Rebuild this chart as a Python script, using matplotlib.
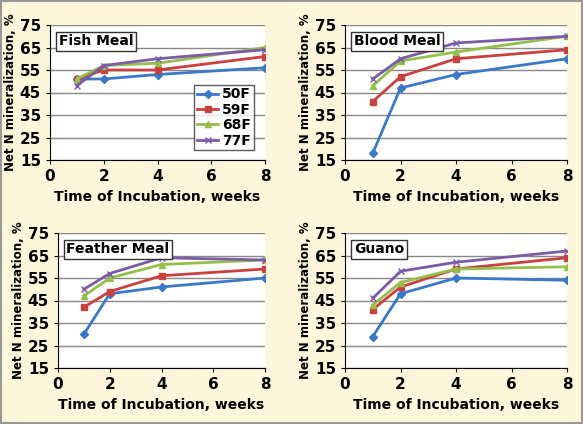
import numpy as np
import matplotlib.pyplot as plt
from matplotlib.patches import Rectangle

weeks = [1, 2, 4, 8]
series = ["50F", "59F", "68F", "77F"]
colors = ["#3a78c8", "#c8413f", "#93bf4a", "#7d5ba6"]
markers = ["D", "s", "^", "x"]

panels = ["Fish Meal", "Blood Meal", "Feather Meal", "Guano"]
values = {
    "Fish Meal": [[51, 51, 53, 56], [51, 55, 55, 61], [51, 57, 58, 65], [48, 57, 60, 64]],
    "Blood Meal": [[18, 47, 53, 60], [41, 52, 60, 64], [48, 59, 63, 70], [51, 60, 67, 70]],
    "Feather Meal": [[30, 48, 51, 55], [42, 49, 56, 59], [47, 55, 61, 63], [50, 57, 64, 63]],
    "Guano": [[29, 48, 55, 54], [41, 51, 59, 64], [43, 53, 59, 60], [46, 58, 62, 67]],
}

W, H = 583, 424
fig = plt.figure(figsize=(W / 100, H / 100), dpi=100, facecolor="#fdf6da")
fig.patches.append(Rectangle((0.002, 0.002), 0.996, 0.996, transform=fig.transFigure,
                             fill=False, edgecolor="#999999", lw=1.5))

boxes = [(50, 25, 265, 160), (345, 25, 567, 160), (58, 233, 265, 368), (345, 233, 567, 368)]

for name, (x0, y0, x1, y1) in zip(panels, boxes):
    ax = fig.add_axes([x0 / W, 1 - y1 / H, (x1 - x0) / W, (y1 - y0) / H])
    for lab, c, m, v in zip(series, colors, markers, values[name]):
        ax.plot(weeks, v, color=c, marker=m, ms=4, lw=2, label=lab)
    ax.set_xlim(0, 8)
    ax.set_ylim(15, 75)
    ax.set_xticks([0, 2, 4, 6, 8])
    ax.set_yticks(range(15, 76, 10))
    ax.grid(axis="y", color="#888888", lw=1)
    ax.set_axisbelow(True)
    for s in ["top", "right"]:
        ax.spines[s].set_visible(False)
    ax.tick_params(labelsize=11, length=3)
    for t in ax.get_xticklabels() + ax.get_yticklabels():
        t.set_fontweight("bold")
    ax.set_xlabel("Time of Incubation, weeks", fontsize=10, fontweight="bold")
    ax.set_ylabel("Net N mineralization, %", fontsize=8.5, fontweight="bold", labelpad=2)
    ax.text(0.04, 0.93, name, transform=ax.transAxes, fontsize=10, fontweight="bold",
            va="top", bbox=dict(facecolor="white", edgecolor="#333333", pad=2))
    if name == "Fish Meal":
        leg = ax.legend(loc="lower right", fontsize=10, frameon=True, edgecolor="#333333",
                        fancybox=False, handlelength=1.5, borderpad=0.2, labelspacing=0.1,
                        handletextpad=0.3, bbox_to_anchor=(0.98, 0.02))
        for t in leg.get_texts():
            t.set_fontweight("bold")

plt.savefig("out.png", dpi=100, facecolor=fig.get_facecolor())
